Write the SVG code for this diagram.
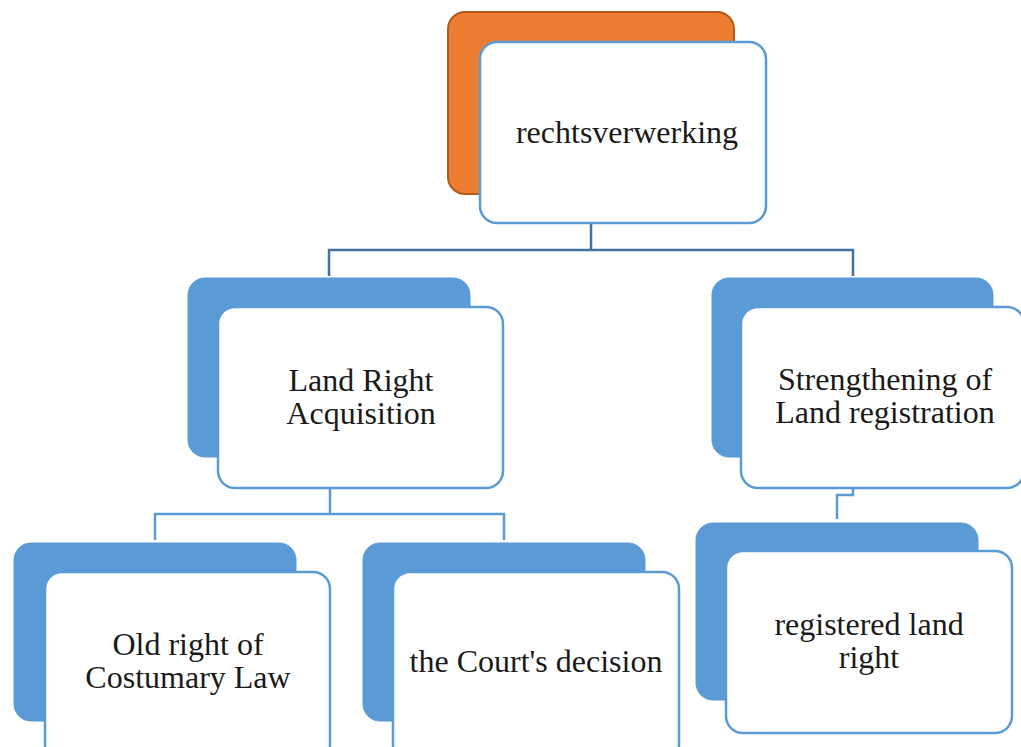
<svg xmlns="http://www.w3.org/2000/svg" width="1021" height="747" viewBox="0 0 1021 747">
<style>
.back{fill:#5B9BD5;stroke:#5B9BD5;stroke-width:1}
.orange{fill:#ED7D31;stroke:#AE5A21;stroke-width:2}
.front{fill:#FFFFFF;stroke:#5B9BD5;stroke-width:2.5}
.conn{fill:none;stroke:#41719C;stroke-width:2.5}
.conn2{fill:none;stroke:#5B9BD5;stroke-width:2.5}
text{font-family:"Liberation Serif","Times New Roman",serif;font-size:32px;fill:#1a1a1a;text-anchor:middle}
</style>
<rect width="1021" height="747" fill="#FFFFFF"/>
<g id="connectors">
<path class="conn" d="M591,224 V250 M329,276 V250 H853 V276"/>
<path class="conn2" d="M330,488 V514 M155,540 V514 H504 V540"/>
<path class="conn2" d="M853,488 V495 H837 V519"/>
</g>
<g id="node-rechtsverwerking">
<rect class="orange" x="448" y="12" width="286" height="182" rx="17"/>
<rect class="front" x="480" y="42" width="286" height="181" rx="17"/>
<text x="627" y="143">rechtsverwerking</text>
</g>
<g id="node-land-right">
<rect class="back" x="188" y="278" width="282" height="179" rx="17"/>
<rect class="front" x="218" y="307" width="285" height="181" rx="17"/>
<text x="361" y="391">Land Right</text>
<text x="361" y="424">Acquisition</text>
</g>
<g id="node-strengthening">
<rect class="back" x="712" y="278" width="281" height="179" rx="17"/>
<rect class="front" x="741" y="307" width="283" height="181" rx="17"/>
<text x="885" y="390">Strengthening of</text>
<text x="885" y="423">Land registration</text>
</g>
<g id="node-old-right">
<rect class="back" x="14" y="543" width="282" height="178" rx="17"/>
<rect class="front" x="45" y="572" width="285" height="190" rx="17"/>
<text x="188" y="655">Old right of</text>
<text x="188" y="688">Costumary Law</text>
</g>
<g id="node-court">
<rect class="back" x="363" y="543" width="282" height="178" rx="17"/>
<rect class="front" x="393" y="572" width="286" height="190" rx="17"/>
<text x="536" y="672">the Court's decision</text>
</g>
<g id="node-registered">
<rect class="back" x="696" y="523" width="282" height="177" rx="17"/>
<rect class="front" x="726" y="551" width="286" height="182" rx="17"/>
<text x="869" y="635">registered land</text>
<text x="869" y="668">right</text>
</g>
</svg>
